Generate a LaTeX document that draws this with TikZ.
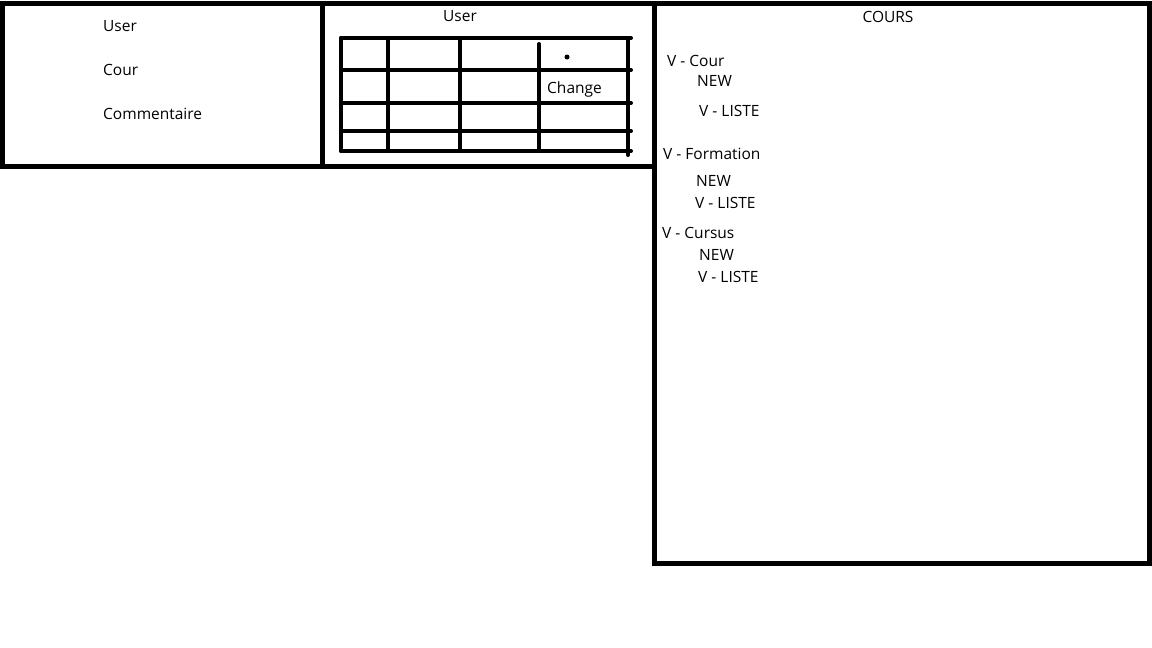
\documentclass[tikz,border=0pt]{standalone}
\usepackage{fontspec}
\setmainfont{Open Sans}
\tikzset{
  panel/.style={draw=black, line width=5pt},
  gridline/.style={draw=black, line width=4pt, line cap=round},
  lbl/.style={anchor=base west, inner sep=0pt, font=\fontsize{15.5}{18}\selectfont},
  ttl/.style={anchor=base, inner sep=0pt, font=\fontsize{15.5}{18}\selectfont},
}
\begin{document}
\begin{tikzpicture}[x=1pt, y=-1pt]
\useasboundingbox (0,0) rectangle (1152,648);
\fill[white] (0,0) rectangle (1152,648);
% panels
\draw[panel] (2.5,3) rectangle (322,166);
\draw[panel] (322,3) rectangle (654,166);
\draw[panel] (654,3) rectangle (1149,563);
% left panel
\node[lbl] (u1) at (103,31.5) {User};
\node[lbl] (c1) at (103,75.5) {Cour};
\node[lbl] (cm) at (103,119.5) {Commentaire};
% middle panel
\node[ttl] (u2) at (460,21.5) {User};
\foreach \y in {38,70,103,131,151} \draw[gridline] (341,\y) -- (631,\y);
\draw[gridline] (341,38) -- (341,151);
\draw[gridline] (388,38) -- (388,151);
\draw[gridline] (460,38) -- (460,151);
\draw[gridline] (539,44) -- (539,151);
\draw[gridline] (628,38) -- (628,155);
\fill (567,57) circle (2.5);
\node[lbl] (ch) at (547,93.5) {Change};
% right panel
\node[ttl] (cours) at (888,22.5) {COURS};
\node[lbl] (vc) at (667,66.5) {V - Cour};
\node[lbl] (n1) at (697,86.5) {NEW};
\node[lbl] (l1) at (699,116.5) {V - LISTE};
\node[lbl] (vf) at (663,159.5) {V - Formation};
\node[lbl] (n2) at (696,186.5) {NEW};
\node[lbl] (l2) at (695,208.5) {V - LISTE};
\node[lbl] (vu) at (662,238.5) {V - Cursus};
\node[lbl] (n3) at (699,260.5) {NEW};
\node[lbl] (l3) at (698,282.5) {V - LISTE};
\end{tikzpicture}
\end{document}
